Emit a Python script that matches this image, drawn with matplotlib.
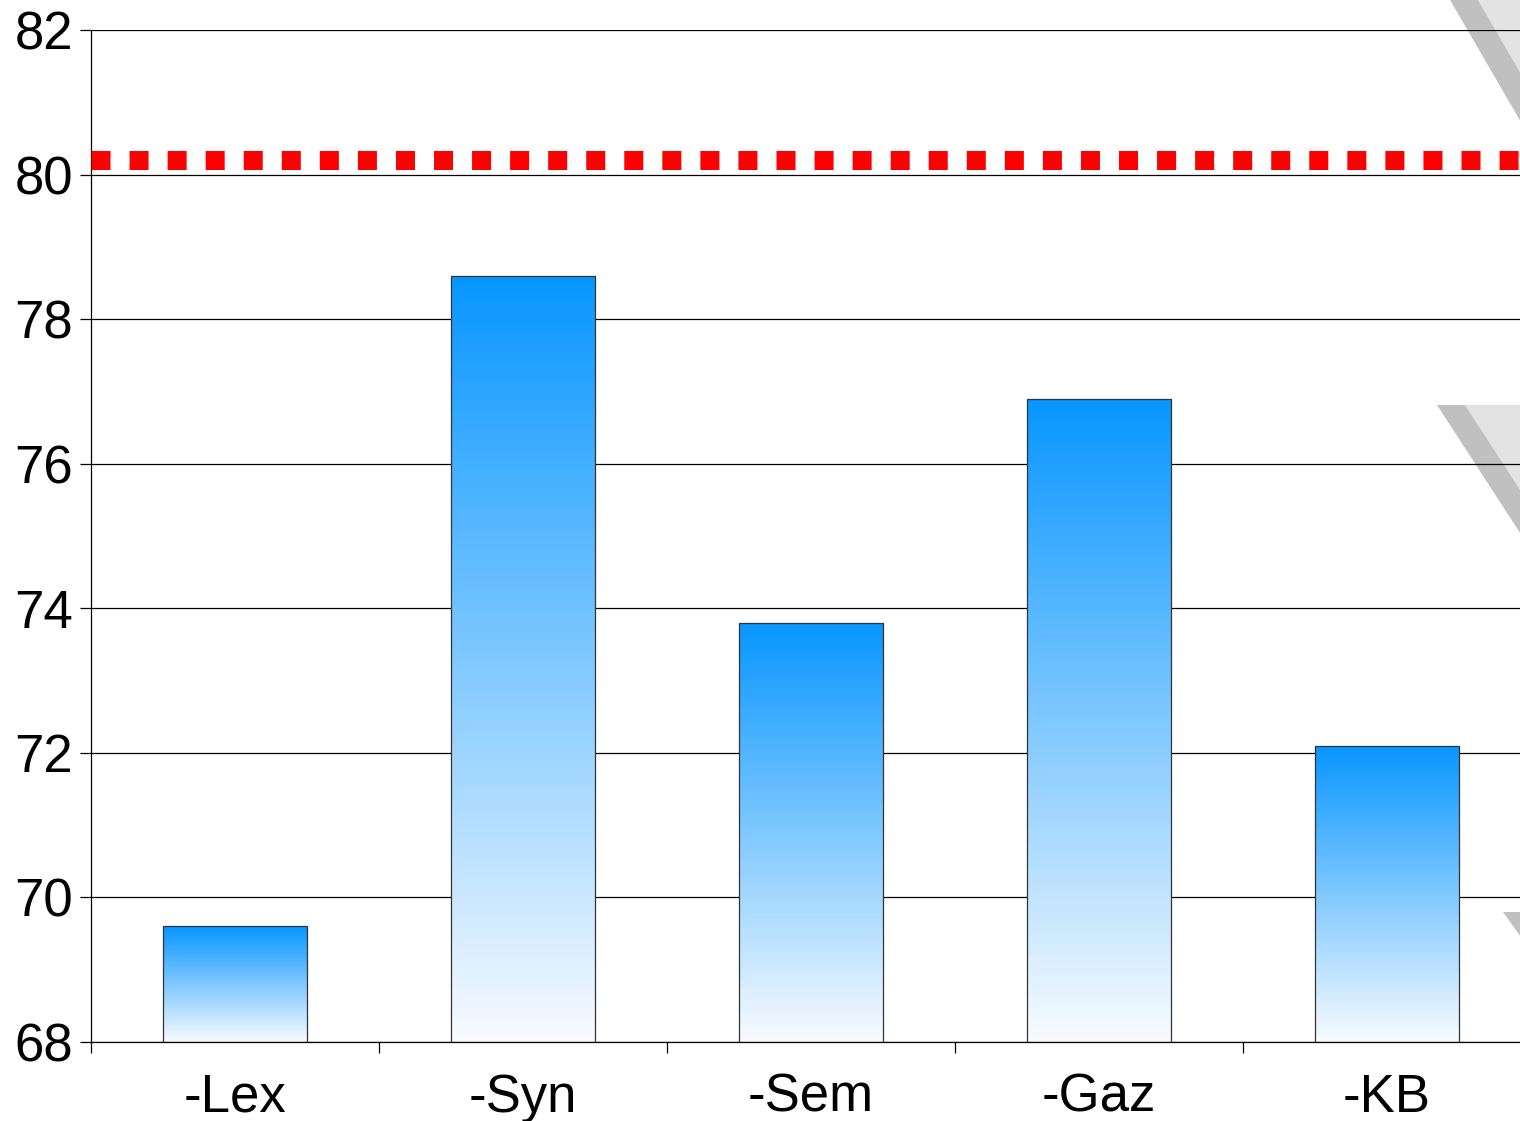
import matplotlib.pyplot as plt
import numpy as np
from matplotlib.patches import Polygon
from matplotlib.colors import LinearSegmentedColormap

plt.rcParams['font.family'] = ['Liberation Sans', 'DejaVu Sans']

categories = ['-Lex', '-Syn', '-Sem', '-Gaz', '-KB']
values = [69.6, 78.6, 73.8, 76.9, 72.1]
baseline = 80.2
ymin, ymax = 68, 82

W, H = 1520, 1121
fig = plt.figure(figsize=(W / 100, H / 100), dpi=100)
ax = fig.add_axes([91 / W, 1 - 1042 / H, 1440 / W, 1012 / H])
ax.set_facecolor('none')

# decorative gray triangles (pixel coords, partly off the picture)
def px(pts):
    return [(x / W, 1 - y / H) for x, y in pts]

for x0, y0, band, slope in [(1450, 0, 28, 1.72), (1437, 405, 28, 1.54), (1503, 912, 28, 1.4)]:
    far = 200
    dark = [(x0, y0), (x0 + band, y0), (x0 + band + far, y0 + far * slope), (x0 + far, y0 + far * slope)]
    light = [(x0 + band, y0), (x0 + band + far, y0), (x0 + band + far, y0 + far * slope)]
    if y0 < 900:
        fig.add_artist(Polygon(px(light), closed=True, facecolor='#e3e3e3', edgecolor='none', zorder=-2, transform=fig.transFigure))
    fig.add_artist(Polygon(px(dark), closed=True, facecolor='#c0c0c0', edgecolor='none', zorder=-1, transform=fig.transFigure))

cmap = LinearSegmentedColormap.from_list('grad', ['#f8fbff', '#0796ff'])
grad = np.linspace(0, 1, 256).reshape(-1, 1)
x = np.arange(len(categories))
bw = 0.5
bars = ax.bar(x, np.array(values) - ymin, bottom=ymin, width=bw, facecolor='none',
              edgecolor='#333333', linewidth=0.9, zorder=3)
for b, v in zip(bars, values):
    x0 = b.get_x()
    im = ax.imshow(grad, cmap=cmap, aspect='auto', origin='lower',
                   extent=(x0, x0 + bw, ymin, v), zorder=2, interpolation='bilinear')
    im.set_clip_path(b)

ax.axhline(baseline, color='#ff0000', linewidth=13.7, linestyle=(0, (1, 1)),
           dash_capstyle='butt', zorder=4)

ax.set_xlim(-0.5, len(categories) - 0.5)
ax.set_ylim(ymin, ymax)
ax.set_yticks(np.arange(68, 83, 2))
ax.yaxis.grid(True, color='#000000', linewidth=0.9, zorder=1)
ax.set_axisbelow(True)

ax.set_xticks(x)
ax.set_xticklabels(categories)
ax.set_xticks(np.arange(-0.5, len(categories), 1), minor=True)
ax.tick_params(axis='x', which='major', length=0, pad=22, labelsize=38)
ax.tick_params(axis='x', which='minor', length=8, width=0.9, direction='out')
ax.tick_params(axis='y', length=8, width=0.9, direction='out', pad=5, labelsize=38)

for s in ['top', 'right']:
    ax.spines[s].set_visible(False)
for s in ['left', 'bottom']:
    ax.spines[s].set_linewidth(0.9)

fig.savefig('out.png', dpi=100)
